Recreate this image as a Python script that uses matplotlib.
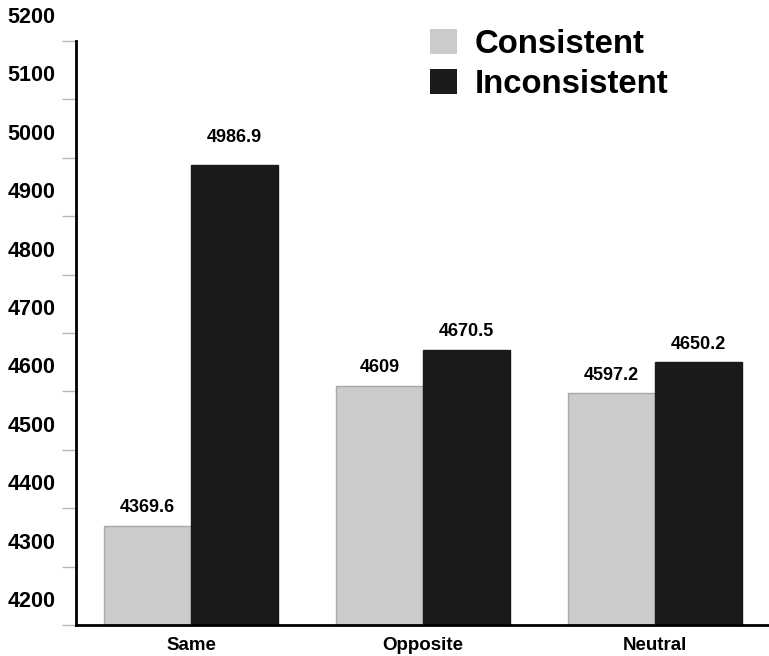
import matplotlib
matplotlib.use("Agg")
import matplotlib.pyplot as plt
import matplotlib.transforms as mtransforms
import numpy as np

categories = ["Same", "Opposite", "Neutral"]
consistent = [4369.6, 4609, 4597.2]
inconsistent = [4986.9, 4670.5, 4650.2]
consistent_labels = ["4369.6", "4609", "4597.2"]
inconsistent_labels = ["4986.9", "4670.5", "4650.2"]
series_names = ["Consistent", "Inconsistent"]
yticks = [4200, 4300, 4400, 4500, 4600, 4700, 4800, 4900, 5000, 5100, 5200]

# style: label offsets (pixels above bar top)
cons_off = [18, 19, 18]
incons_off = [28, 19, 18]

plt.rcParams['font.family'] = ['Liberation Sans', 'DejaVu Sans']
fig = plt.figure(figsize=(7.69, 6.56), dpi=100)
ax = fig.add_axes([76/769, 1-625/656, 1-76/769, (625-41)/656])

x = np.arange(len(categories))
w = 87/232
b1 = ax.bar(x - w/2, np.array(consistent) - 4200, w, bottom=4200, color="#cbcbcb",
            edgecolor="#a8a8a8", linewidth=1, label=series_names[0], zorder=2)
b2 = ax.bar(x + w/2, np.array(inconsistent) - 4200, w, bottom=4200, color="#1a1a1a",
            edgecolor="#1a1a1a", linewidth=1, label=series_names[1], zorder=2)

ax.set_xlim((76-191)/232, (769-191)/232)
ax.set_ylim(4200, 5200)

for xi, v, lab, off in zip(x - w/2, consistent, consistent_labels, cons_off):
    ax.annotate(lab, (xi, v), xytext=(0, off*0.72), textcoords="offset points",
                ha="center", va="center", fontsize=13, fontweight="bold")
for xi, v, lab, off in zip(x + w/2, inconsistent, inconsistent_labels, incons_off):
    ax.annotate(lab, (xi, v), xytext=(0, off*0.72), textcoords="offset points",
                ha="center", va="center", fontsize=13, fontweight="bold")

ax.set_yticks(yticks)
ax.set_yticklabels([str(t) for t in yticks], fontsize=15.5, fontweight="bold")
ax.tick_params(axis="y", direction="out", length=10, width=1, color="#b8b8b8", pad=5)
offset = mtransforms.ScaledTranslation(0, 26/100, fig.dpi_scale_trans)
for lbl in ax.get_yticklabels():
    lbl.set_transform(lbl.get_transform() + offset)

ax.set_xticks(x)
ax.set_xticklabels(categories, fontsize=13.5, fontweight="bold")
ax.tick_params(axis="x", length=0, pad=9)

for s in ["top", "right"]:
    ax.spines[s].set_visible(False)
ax.spines["left"].set_linewidth(2)
ax.spines["bottom"].set_linewidth(2)
ax.spines["left"].set_color("black")
ax.spines["bottom"].set_color("black")

leg = fig.legend(handles=[b1, b2], labels=series_names, loc="upper left",
                 bbox_to_anchor=(430/769, 1-29/656), frameon=False,
                 prop={"size": 23.7, "weight": "bold"}, handlelength=0.83,
                 handleheight=0.78, handletextpad=0.53, labelspacing=0.28,
                 borderaxespad=0, borderpad=0)
for h in leg.legend_handles:
    h.set_edgecolor("none")

fig.savefig("out.png", dpi=100)
